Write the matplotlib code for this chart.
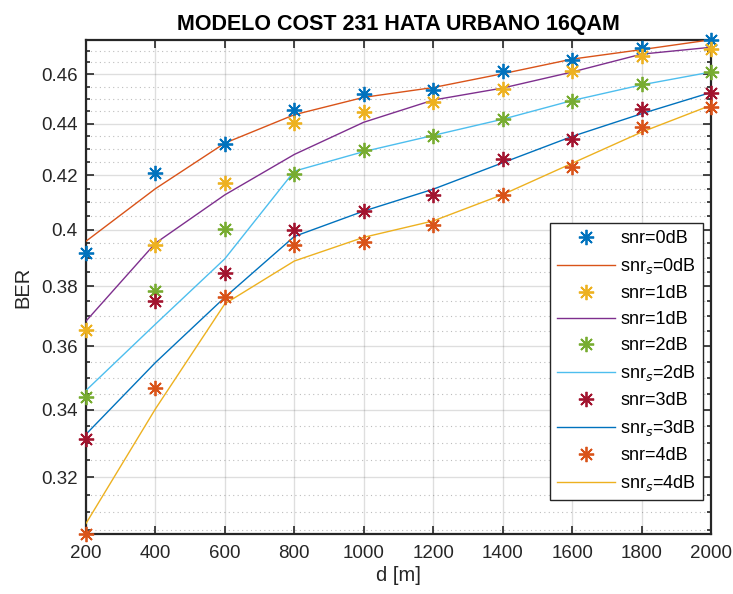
import numpy as np
import matplotlib
matplotlib.use("Agg")
import matplotlib.pyplot as plt
from matplotlib.ticker import FixedLocator, FixedFormatter, NullFormatter

plt.rcParams['font.family'] = ['Liberation Sans', 'DejaVu Sans']

d = [200, 400, 600, 800, 1000, 1200, 1400, 1600, 1800, 2000]

# simulated BER (markers)
ber_snr0 = [0.3916, 0.4210, 0.4321, 0.4456, 0.4519, 0.4536, 0.4614, 0.4661, 0.4712, 0.4746]
ber_snr1 = [0.3652, 0.3946, 0.4171, 0.4402, 0.4446, 0.4486, 0.4539, 0.4614, 0.4675, 0.4707]
ber_snr2 = [0.3441, 0.3784, 0.4003, 0.4204, 0.4299, 0.4350, 0.4418, 0.4490, 0.4560, 0.4610]
ber_snr3 = [0.3311, 0.3752, 0.3846, 0.3997, 0.4067, 0.4125, 0.4261, 0.4341, 0.4458, 0.4522]
ber_snr4 = [0.3041, 0.3467, 0.3763, 0.3945, 0.3954, 0.4015, 0.4125, 0.4231, 0.4389, 0.4467]

# smoothed BER (lines)
ber_s0 = [0.3958, 0.4150, 0.4324, 0.4436, 0.4506, 0.4546, 0.4603, 0.4664, 0.4704, 0.4746]
ber_s1 = [0.3683, 0.3951, 0.4127, 0.4280, 0.4406, 0.4495, 0.4544, 0.4610, 0.4685, 0.4714]
ber_s2 = [0.3460, 0.3673, 0.3896, 0.4216, 0.4291, 0.4354, 0.4418, 0.4493, 0.4557, 0.4610]
ber_s3 = [0.3326, 0.3548, 0.3763, 0.3975, 0.4067, 0.4148, 0.4248, 0.4350, 0.4440, 0.4526]
ber_s4 = [0.3069, 0.3403, 0.3741, 0.3888, 0.3972, 0.4031, 0.4128, 0.4246, 0.4367, 0.4474]

labels_pts = ['snr=0dB', 'snr=1dB', 'snr=2dB', 'snr=3dB', 'snr=4dB']
labels_lines = ['snr$_s$=0dB', 'snr=1dB', 'snr$_s$=2dB', 'snr$_s$=3dB', 'snr$_s$=4dB']

pt_colors = ['#0072BD', '#EDB120', '#77AC30', '#A2142F', '#D95319']
ln_colors = ['#D95319', '#7E2F8E', '#4DBEEE', '#0072BD', '#EDB120']

pts = [ber_snr0, ber_snr1, ber_snr2, ber_snr3, ber_snr4]
lines = [ber_s0, ber_s1, ber_s2, ber_s3, ber_s4]

yticks = [0.32, 0.34, 0.36, 0.38, 0.40, 0.42, 0.44, 0.46]
ytick_labels = ['0.32', '0.34', '0.36', '0.38', '0.4', '0.42', '0.44', '0.46']
xticks = [200, 400, 600, 800, 1000, 1200, 1400, 1600, 1800, 2000]

fig = plt.figure(figsize=(7.33, 5.94), dpi=100)
ax = fig.add_axes([86/733, 60/594, 625/733, 494/594])

axc = '#262626'
for p, l, pc, lc, lp, ll in zip(pts, lines, pt_colors, ln_colors, labels_pts, labels_lines):
    ax.plot(d, p, linestyle='none', marker=(8, 2, 0), markersize=11,
            markeredgewidth=1.3, color=pc, label=lp, clip_on=False, zorder=4)
    ax.plot(d, l, color=lc, linewidth=1.0, label=ll, zorder=3)

ax.set_yscale('log')
ax.set_xlim(200, 2000)
ax.set_ylim(0.3040, 0.4745)

ax.xaxis.set_major_locator(FixedLocator(xticks))
ax.yaxis.set_major_locator(FixedLocator(yticks))
ax.yaxis.set_major_formatter(FixedFormatter(ytick_labels))
minor = [v for v in np.arange(0.305, 0.4751, 0.005)
         if all(abs(v - t) > 1e-6 for t in yticks)]
ax.yaxis.set_minor_locator(FixedLocator(minor))
ax.yaxis.set_minor_formatter(NullFormatter())
ax.xaxis.set_minor_locator(FixedLocator([]))

ax.grid(True, which='major', color='#262626', alpha=0.15, linewidth=1.0)
ax.grid(True, which='minor', axis='y', color='#262626', alpha=0.3,
        linewidth=0.8, linestyle=(0, (1, 3)))

ax.tick_params(which='both', direction='in', top=True, right=True, colors=axc,
               labelsize=13.5, width=1.2)
ax.tick_params(which='major', length=6)
ax.tick_params(axis='x', which='major', pad=8)
ax.tick_params(axis='y', which='major', pad=6)
ax.tick_params(which='minor', length=3)
for s in ax.spines.values():
    s.set_color(axc)
    s.set_linewidth(1.6)

ax.set_title('MODELO COST 231 HATA URBANO 16QAM', fontsize=15.5,
             fontweight='bold', color='black', pad=7)
ax.set_xlabel('d [m]', fontsize=14.5, color=axc, labelpad=3)
ax.set_ylabel('BER', fontsize=14.5, color=axc, labelpad=6)

leg = ax.legend(loc='lower right', bbox_to_anchor=(0.9875, 0.068),
                fontsize=13, frameon=True, fancybox=False, framealpha=1,
                edgecolor=axc, handlelength=3.2, handletextpad=0.3,
                labelspacing=0.5, borderpad=0.4, borderaxespad=0)
leg.get_frame().set_linewidth(1.0)
for t in leg.get_texts():
    t.set_color('black')

fig.savefig('out.png', dpi=100)
